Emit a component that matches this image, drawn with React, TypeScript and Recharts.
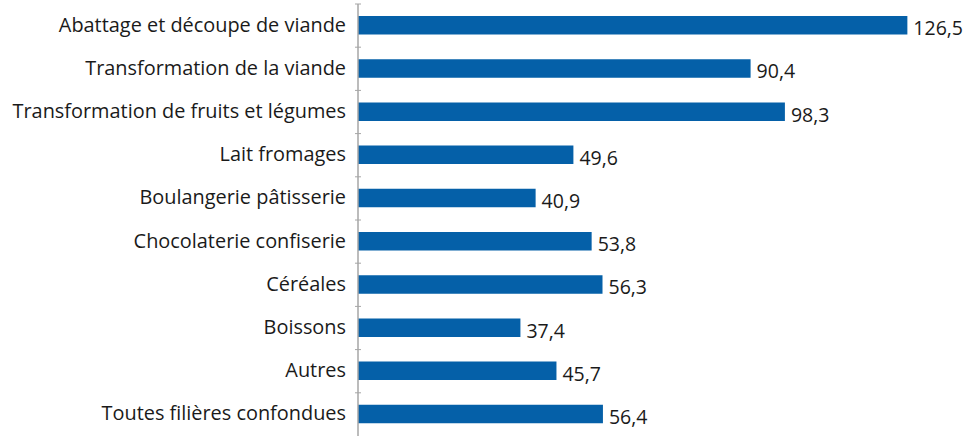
import { BarChart, Bar, XAxis, YAxis, LabelList } from 'recharts';

const categories = [
  'Abattage et découpe de viande',
  'Transformation de la viande',
  'Transformation de fruits et légumes',
  'Lait fromages',
  'Boulangerie pâtisserie',
  'Chocolaterie confiserie',
  'Céréales',
  'Boissons',
  'Autres',
  'Toutes filières confondues',
];
const values = [126.5, 90.4, 98.3, 49.6, 40.9, 53.8, 56.3, 37.4, 45.7, 56.4];

const data = categories.map((name, i) => ({ name, value: values[i] }));

const BAND = 43.2;
const FONT = '"Open Sans", sans-serif';

function CategoryTick(props: any) {
  const { x, y, payload } = props;
  return (
    <g>
      <line x1={x + 5} x2={x + 11} y1={y - BAND / 2} y2={y - BAND / 2} stroke="#a6a6a6" strokeWidth={1} />
      <text x={x - 4} y={y} dy={6} textAnchor="end" fontSize={19.9} fill="#1a1a1a" fontFamily={FONT}>
        {payload.value}
      </text>
    </g>
  );
}

function ValueLabel(props: any) {
  const { x, y, width, height, value } = props;
  return (
    <text
      x={x + width + 6}
      y={y + height / 2 + 10}
      fontSize={19.5}
      fill="#1a1a1a"
      fontFamily={FONT}
    >
      {String(value).replace('.', ',')}
    </text>
  );
}

export default function App() {
  return (
    <div style={{ position: 'absolute', left: 0, top: 0, background: '#fff' }}>
      <BarChart
        width={964}
        height={436}
        data={data}
        layout="vertical"
        margin={{ top: 4, right: -2, bottom: 0, left: 0 }}
        barCategoryGap={0}
      >
        <XAxis type="number" domain={[0, 140]} hide />
        <YAxis
          type="category"
          dataKey="name"
          width={358}
          axisLine={{ stroke: '#a6a6a6', strokeWidth: 1.5 }}
          tickLine={false}
          tick={<CategoryTick />}
          interval={0}
        />
        <Bar dataKey="value" fill="#0560a8" barSize={18.5} isAnimationActive={false}>
          <LabelList dataKey="value" content={<ValueLabel />} />
        </Bar>
      </BarChart>
    </div>
  );
}
